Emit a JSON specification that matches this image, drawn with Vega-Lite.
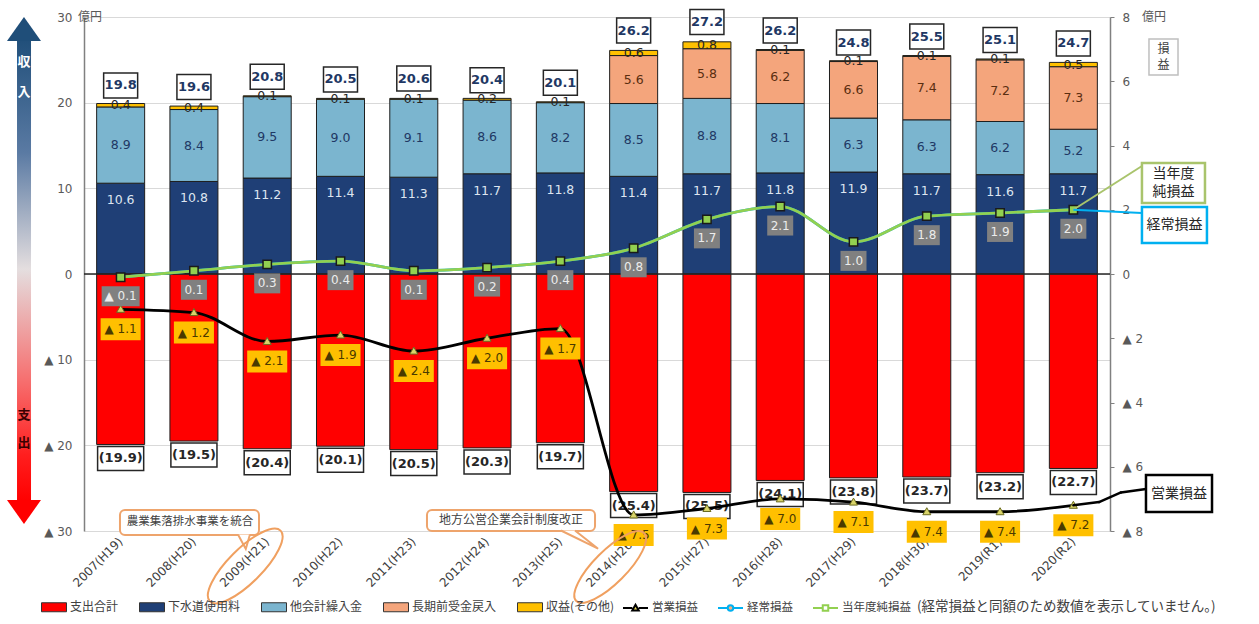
{
  "$schema": "https://vega.github.io/schema/vega-lite/v6.json",
  "width": 1026,
  "height": 514,
  "autosize": {"type": "none"},
  "padding": {"left": 84, "top": 17, "right": 149, "bottom": 93},
  "background": "#ffffff",
  "config": {
    "view": {"stroke": null},
    "font": "DejaVu Sans",
    "locale": {"number": {"decimal": ".", "thousands": ",", "grouping": [3], "currency": ["", ""], "minus": "▲ "}},
    "legend": {"padding": 0}
  },
  "datasets": {
    "flows": [
      {"year": "2007(H19)", "item": "下水道使用料", "value": 10.6},
      {"year": "2007(H19)", "item": "他会計繰入金", "value": 8.9},
      {"year": "2007(H19)", "item": "収益(その他)", "value": 0.4},
      {"year": "2007(H19)", "item": "支出合計", "value": -19.9},
      {"year": "2008(H20)", "item": "下水道使用料", "value": 10.8},
      {"year": "2008(H20)", "item": "他会計繰入金", "value": 8.4},
      {"year": "2008(H20)", "item": "収益(その他)", "value": 0.4},
      {"year": "2008(H20)", "item": "支出合計", "value": -19.5},
      {"year": "2009(H21)", "item": "下水道使用料", "value": 11.2},
      {"year": "2009(H21)", "item": "他会計繰入金", "value": 9.5},
      {"year": "2009(H21)", "item": "収益(その他)", "value": 0.1},
      {"year": "2009(H21)", "item": "支出合計", "value": -20.4},
      {"year": "2010(H22)", "item": "下水道使用料", "value": 11.4},
      {"year": "2010(H22)", "item": "他会計繰入金", "value": 9.0},
      {"year": "2010(H22)", "item": "収益(その他)", "value": 0.1},
      {"year": "2010(H22)", "item": "支出合計", "value": -20.1},
      {"year": "2011(H23)", "item": "下水道使用料", "value": 11.3},
      {"year": "2011(H23)", "item": "他会計繰入金", "value": 9.1},
      {"year": "2011(H23)", "item": "収益(その他)", "value": 0.1},
      {"year": "2011(H23)", "item": "支出合計", "value": -20.5},
      {"year": "2012(H24)", "item": "下水道使用料", "value": 11.7},
      {"year": "2012(H24)", "item": "他会計繰入金", "value": 8.6},
      {"year": "2012(H24)", "item": "収益(その他)", "value": 0.2},
      {"year": "2012(H24)", "item": "支出合計", "value": -20.3},
      {"year": "2013(H25)", "item": "下水道使用料", "value": 11.8},
      {"year": "2013(H25)", "item": "他会計繰入金", "value": 8.2},
      {"year": "2013(H25)", "item": "収益(その他)", "value": 0.1},
      {"year": "2013(H25)", "item": "支出合計", "value": -19.7},
      {"year": "2014(H26)", "item": "下水道使用料", "value": 11.4},
      {"year": "2014(H26)", "item": "他会計繰入金", "value": 8.5},
      {"year": "2014(H26)", "item": "長期前受金戻入", "value": 5.6},
      {"year": "2014(H26)", "item": "収益(その他)", "value": 0.6},
      {"year": "2014(H26)", "item": "支出合計", "value": -25.4},
      {"year": "2015(H27)", "item": "下水道使用料", "value": 11.7},
      {"year": "2015(H27)", "item": "他会計繰入金", "value": 8.8},
      {"year": "2015(H27)", "item": "長期前受金戻入", "value": 5.8},
      {"year": "2015(H27)", "item": "収益(その他)", "value": 0.8},
      {"year": "2015(H27)", "item": "支出合計", "value": -25.5},
      {"year": "2016(H28)", "item": "下水道使用料", "value": 11.8},
      {"year": "2016(H28)", "item": "他会計繰入金", "value": 8.1},
      {"year": "2016(H28)", "item": "長期前受金戻入", "value": 6.2},
      {"year": "2016(H28)", "item": "収益(その他)", "value": 0.1},
      {"year": "2016(H28)", "item": "支出合計", "value": -24.1},
      {"year": "2017(H29)", "item": "下水道使用料", "value": 11.9},
      {"year": "2017(H29)", "item": "他会計繰入金", "value": 6.3},
      {"year": "2017(H29)", "item": "長期前受金戻入", "value": 6.6},
      {"year": "2017(H29)", "item": "収益(その他)", "value": 0.1},
      {"year": "2017(H29)", "item": "支出合計", "value": -23.8},
      {"year": "2018(H30)", "item": "下水道使用料", "value": 11.7},
      {"year": "2018(H30)", "item": "他会計繰入金", "value": 6.3},
      {"year": "2018(H30)", "item": "長期前受金戻入", "value": 7.4},
      {"year": "2018(H30)", "item": "収益(その他)", "value": 0.1},
      {"year": "2018(H30)", "item": "支出合計", "value": -23.7},
      {"year": "2019(R1)", "item": "下水道使用料", "value": 11.6},
      {"year": "2019(R1)", "item": "他会計繰入金", "value": 6.2},
      {"year": "2019(R1)", "item": "長期前受金戻入", "value": 7.2},
      {"year": "2019(R1)", "item": "収益(その他)", "value": 0.1},
      {"year": "2019(R1)", "item": "支出合計", "value": -23.2},
      {"year": "2020(R2)", "item": "下水道使用料", "value": 11.7},
      {"year": "2020(R2)", "item": "他会計繰入金", "value": 5.2},
      {"year": "2020(R2)", "item": "長期前受金戻入", "value": 7.3},
      {"year": "2020(R2)", "item": "収益(その他)", "value": 0.5},
      {"year": "2020(R2)", "item": "支出合計", "value": -22.7}
    ],
    "totals": [
      {"year": "2007(H19)", "revenue": 19.8},
      {"year": "2008(H20)", "revenue": 19.6},
      {"year": "2009(H21)", "revenue": 20.8},
      {"year": "2010(H22)", "revenue": 20.5},
      {"year": "2011(H23)", "revenue": 20.6},
      {"year": "2012(H24)", "revenue": 20.4},
      {"year": "2013(H25)", "revenue": 20.1},
      {"year": "2014(H26)", "revenue": 26.2},
      {"year": "2015(H27)", "revenue": 27.2},
      {"year": "2016(H28)", "revenue": 26.2},
      {"year": "2017(H29)", "revenue": 24.8},
      {"year": "2018(H30)", "revenue": 25.5},
      {"year": "2019(R1)", "revenue": 25.1},
      {"year": "2020(R2)", "revenue": 24.7}
    ],
    "pl": [
      {"year": "2007(H19)", "series": "営業損益", "value": -1.1},
      {"year": "2008(H20)", "series": "営業損益", "value": -1.2},
      {"year": "2009(H21)", "series": "営業損益", "value": -2.1},
      {"year": "2010(H22)", "series": "営業損益", "value": -1.9},
      {"year": "2011(H23)", "series": "営業損益", "value": -2.4},
      {"year": "2012(H24)", "series": "営業損益", "value": -2.0},
      {"year": "2013(H25)", "series": "営業損益", "value": -1.7},
      {"year": "2014(H26)", "series": "営業損益", "value": -7.5},
      {"year": "2015(H27)", "series": "営業損益", "value": -7.3},
      {"year": "2016(H28)", "series": "営業損益", "value": -7.0},
      {"year": "2017(H29)", "series": "営業損益", "value": -7.1},
      {"year": "2018(H30)", "series": "営業損益", "value": -7.4},
      {"year": "2019(R1)", "series": "営業損益", "value": -7.4},
      {"year": "2020(R2)", "series": "営業損益", "value": -7.2},
      {"year": "2007(H19)", "series": "経常損益", "value": -0.1},
      {"year": "2008(H20)", "series": "経常損益", "value": 0.1},
      {"year": "2009(H21)", "series": "経常損益", "value": 0.3},
      {"year": "2010(H22)", "series": "経常損益", "value": 0.4},
      {"year": "2011(H23)", "series": "経常損益", "value": 0.1},
      {"year": "2012(H24)", "series": "経常損益", "value": 0.2},
      {"year": "2013(H25)", "series": "経常損益", "value": 0.4},
      {"year": "2014(H26)", "series": "経常損益", "value": 0.8},
      {"year": "2015(H27)", "series": "経常損益", "value": 1.7},
      {"year": "2016(H28)", "series": "経常損益", "value": 2.1},
      {"year": "2017(H29)", "series": "経常損益", "value": 1.0},
      {"year": "2018(H30)", "series": "経常損益", "value": 1.8},
      {"year": "2019(R1)", "series": "経常損益", "value": 1.9},
      {"year": "2020(R2)", "series": "経常損益", "value": 2.0},
      {"year": "2007(H19)", "series": "当年度純損益", "value": -0.1},
      {"year": "2008(H20)", "series": "当年度純損益", "value": 0.1},
      {"year": "2009(H21)", "series": "当年度純損益", "value": 0.3},
      {"year": "2010(H22)", "series": "当年度純損益", "value": 0.4},
      {"year": "2011(H23)", "series": "当年度純損益", "value": 0.1},
      {"year": "2012(H24)", "series": "当年度純損益", "value": 0.2},
      {"year": "2013(H25)", "series": "当年度純損益", "value": 0.4},
      {"year": "2014(H26)", "series": "当年度純損益", "value": 0.8},
      {"year": "2015(H27)", "series": "当年度純損益", "value": 1.7},
      {"year": "2016(H28)", "series": "当年度純損益", "value": 2.1},
      {"year": "2017(H29)", "series": "当年度純損益", "value": 1.0},
      {"year": "2018(H30)", "series": "当年度純損益", "value": 1.8},
      {"year": "2019(R1)", "series": "当年度純損益", "value": 1.9},
      {"year": "2020(R2)", "series": "当年度純損益", "value": 2.0}
    ]
  },
  "layer": [
    {
      "layer": [
        {
          "data": {"name": "flows"},
          "transform": [{"window": [{"op": "row_number", "as": "stackOrder"}], "groupby": ["year"]}],
          "mark": {"type": "bar", "stroke": "#1e1e1e", "strokeWidth": 1},
          "encoding": {
            "x": {"field": "year", "type": "nominal", "sort": null, "title": null,
              "scale": {"paddingInner": 0.345, "paddingOuter": 0.1725},
              "axis": {"orient": "bottom", "domain": false, "ticks": false, "grid": false, "labelAngle": -45, "labelAlign": "right", "labelBaseline": "middle", "labelPadding": 8, "labelFontSize": 12, "labelColor": "#404040", "labelFont": "DejaVu Sans"}},
            "y": {"field": "value", "type": "quantitative", "stack": "zero", "title": null,
              "scale": {"domain": [-30, 30], "nice": false, "zero": false},
              "axis": {"orient": "left", "values": [-30, -20, -10, 0, 10, 20, 30], "grid": true, "gridColor": "#d9d9d9", "domainColor": "#808080", "domainWidth": 1.5, "ticks": false, "labelPadding": 12, "labelFontSize": 12, "labelColor": "#595959", "labelFont": "DejaVu Sans"}},
            "fill": {"field": "item", "type": "nominal",
              "scale": {"domain": ["支出合計", "下水道使用料", "他会計繰入金", "長期前受金戻入", "収益(その他)"], "range": ["#ff0000", "#1f3f76", "#7bb5cf", "#f4a57c", "#ffc000"]},
              "legend": {"orient": "none", "legendX": -43, "legendY": 577, "direction": "horizontal", "title": null, "symbolType": "M-1,-0.36H1V0.36H-1Z", "symbolSize": 625, "symbolStrokeColor": "#333333", "symbolStrokeWidth": 1, "labelFont": "Noto Sans CJK JP", "labelFontSize": 12, "labelColor": "#404040", "labelOffset": 3, "columnPadding": 18}},
            "order": {"field": "stackOrder", "type": "quantitative"}
          }
        },
        {
          "data": {"name": "flows"},
          "transform": [
            {"window": [{"op": "row_number", "as": "stackOrder"}], "groupby": ["year"]},
            {"filter": "datum.value > 0"}
          ],
          "mark": {"type": "text", "font": "DejaVu Sans", "fontSize": 12.5, "baseline": "middle"},
          "encoding": {
            "x": {"field": "year", "type": "nominal", "sort": null, "title": null, "scale": {"paddingInner": 0.345, "paddingOuter": 0.1725}},
            "y": {"field": "value", "type": "quantitative", "stack": "zero", "bandPosition": 0.5, "title": null},
            "text": {"condition": {"test": "datum.item === '下水道使用料'", "value": ""}, "field": "value", "type": "quantitative", "format": ".1f"},
            "color": {"field": "item", "type": "nominal",
              "scale": {"domain": ["下水道使用料", "他会計繰入金", "長期前受金戻入", "収益(その他)"], "range": ["rgba(0,0,0,0)", "#1f3864", "#5a2e10", "#262626"]},
              "legend": null},
            "order": {"field": "stackOrder", "type": "quantitative"}
          }
        },
        {
          "data": {"name": "flows"},
          "transform": [{"filter": "datum.item === '下水道使用料'"}],
          "mark": {"type": "text", "font": "DejaVu Sans", "fontSize": 12.5, "baseline": "middle", "dy": 17, "fill": "#dde5f0"},
          "encoding": {
            "x": {"field": "year", "type": "nominal", "sort": null, "title": null, "scale": {"paddingInner": 0.345, "paddingOuter": 0.1725}},
            "y": {"field": "value", "type": "quantitative", "title": null},
            "text": {"field": "value", "type": "quantitative", "format": ".1f"}
          }
        },
        {
          "data": {"name": "flows"},
          "transform": [{"filter": "datum.item === '支出合計'"}],
          "mark": {"type": "point", "shape": "M-1.92,-1H1.92V1H-1.92Z", "size": 576, "filled": true, "fill": "#ffffff", "stroke": "#262626", "strokeWidth": 1.5, "opacity": 1, "yOffset": 14},
          "encoding": {
            "x": {"field": "year", "type": "nominal", "sort": null, "title": null, "scale": {"paddingInner": 0.345, "paddingOuter": 0.1725}},
            "y": {"field": "value", "type": "quantitative", "title": null}
          }
        },
        {
          "data": {"name": "flows"},
          "transform": [{"filter": "datum.item === '支出合計'"}],
          "mark": {"type": "text", "font": "DejaVu Sans", "fontSize": 13, "fontWeight": "bold", "baseline": "middle", "fill": "#262626", "yOffset": 14},
          "encoding": {
            "x": {"field": "year", "type": "nominal", "sort": null, "title": null, "scale": {"paddingInner": 0.345, "paddingOuter": 0.1725}},
            "y": {"field": "value", "type": "quantitative", "title": null},
            "text": {"field": "value", "type": "quantitative", "format": "(.1f"}
          }
        },
        {
          "data": {"name": "totals"},
          "mark": {"type": "point", "shape": "M-1.36,-1H1.36V1H-1.36Z", "size": 625, "filled": true, "fill": "#ffffff", "stroke": "#262626", "strokeWidth": 1.5, "opacity": 1, "yOffset": -19},
          "encoding": {
            "x": {"field": "year", "type": "nominal", "sort": null, "title": null, "scale": {"paddingInner": 0.345, "paddingOuter": 0.1725}},
            "y": {"field": "revenue", "type": "quantitative", "title": null}
          }
        },
        {
          "data": {"name": "totals"},
          "mark": {"type": "text", "font": "DejaVu Sans", "fontSize": 13, "fontWeight": "bold", "baseline": "middle", "fill": "#1f3864", "yOffset": -19},
          "encoding": {
            "x": {"field": "year", "type": "nominal", "sort": null, "title": null, "scale": {"paddingInner": 0.345, "paddingOuter": 0.1725}},
            "y": {"field": "revenue", "type": "quantitative", "title": null},
            "text": {"field": "revenue", "type": "quantitative", "format": ".1f"}
          }
        },
        {
          "data": {"values": [{}]},
          "mark": {"type": "rule", "stroke": "#262626", "strokeWidth": 1.5},
          "encoding": {
            "y": {"datum": 0, "type": "quantitative", "title": null}
          }
        }
      ]
    },
    {
      "layer": [
        {
          "data": {"name": "pl"},
          "mark": {"type": "line", "interpolate": "monotone", "strokeWidth": 2.8},
          "encoding": {
            "x": {"field": "year", "type": "nominal", "sort": null, "title": null, "scale": {"paddingInner": 0.345, "paddingOuter": 0.1725}, "axis": null},
            "y": {"field": "value", "type": "quantitative", "title": null,
              "scale": {"domain": [-8, 8], "nice": false, "zero": false},
              "axis": {"orient": "right", "values": [-8, -6, -4, -2, 0, 2, 4, 6, 8], "grid": false, "domainColor": "#808080", "domainWidth": 1.5, "tickColor": "#808080", "tickSize": 4, "labelPadding": 8, "labelFontSize": 12, "labelColor": "#595959", "labelFont": "DejaVu Sans"}},
            "stroke": {"field": "series", "type": "nominal",
              "scale": {"domain": ["営業損益", "経常損益", "当年度純損益"], "range": ["#000000", "#00b0f0", "#92d050"]},
              "legend": {"orient": "none", "legendX": 538, "legendY": 577, "direction": "horizontal", "title": null, "symbolSize": 625, "symbolStrokeWidth": 2, "labelFont": "Noto Sans CJK JP", "labelFontSize": 11.5, "labelColor": "#404040", "labelOffset": 3, "columnPadding": 16,
                "encode": {"symbols": {"update": {
                  "shape": {"signal": "datum.value === '営業損益' ? 'M-1,0H-0.26M0.26,0H1M0,-0.26L0.26,0.2H-0.26Z' : datum.value === '経常損益' ? 'M-1,0H-0.22M0.22,0H1M-0.22,0C-0.22,-0.1215 -0.1215,-0.22 0,-0.22C0.1215,-0.22 0.22,-0.1215 0.22,0C0.22,0.1215 0.1215,0.22 0,0.22C-0.1215,0.22 -0.22,0.1215 -0.22,0Z' : 'M-1,0H-0.22M0.22,0H1M-0.22,-0.22H0.22V0.22H-0.22Z'"},
                  "fill": {"signal": "datum.value === '営業損益' ? '#e6d85a' : datum.value === '経常損益' ? '#f4b183' : '#ffffff'"},
                  "opacity": {"value": 1}
                }}}}}
          }
        },
        {
          "data": {"name": "pl"},
          "transform": [{"filter": "datum.series === '営業損益'"}],
          "mark": {"type": "point", "shape": "M0,-1L1,0.75H-1Z", "size": 64, "filled": true, "fill": "#d9d46a", "stroke": "#6b6b1f", "strokeWidth": 1, "opacity": 1},
          "encoding": {
            "x": {"field": "year", "type": "nominal", "sort": null, "title": null, "scale": {"paddingInner": 0.345, "paddingOuter": 0.1725}, "axis": null},
            "y": {"field": "value", "type": "quantitative", "title": null}
          }
        },
        {
          "data": {"name": "pl"},
          "transform": [{"filter": "datum.series === '当年度純損益'"}],
          "mark": {"type": "point", "shape": "square", "size": 70, "filled": true, "fill": "#92d050", "stroke": "#1a1a1a", "strokeWidth": 1.5, "opacity": 1},
          "encoding": {
            "x": {"field": "year", "type": "nominal", "sort": null, "title": null, "scale": {"paddingInner": 0.345, "paddingOuter": 0.1725}, "axis": null},
            "y": {"field": "value", "type": "quantitative", "title": null}
          }
        },
        {
          "data": {"name": "pl"},
          "transform": [{"filter": "datum.series === '経常損益'"}],
          "mark": {"type": "point", "size": 400, "filled": true, "fill": "#808080", "strokeWidth": 0, "opacity": 1, "yOffset": 19},
          "encoding": {
            "x": {"field": "year", "type": "nominal", "sort": null, "title": null, "scale": {"paddingInner": 0.345, "paddingOuter": 0.1725}, "axis": null},
            "y": {"field": "value", "type": "quantitative", "title": null},
            "shape": {"condition": {"test": "datum.value < 0", "value": "M-1.9,-1H1.9V1H-1.9Z"}, "value": "M-1.3,-1H1.3V1H-1.3Z"}
          }
        },
        {
          "data": {"name": "pl"},
          "transform": [{"filter": "datum.series === '経常損益'"}],
          "mark": {"type": "text", "font": "DejaVu Sans", "fontSize": 12, "baseline": "middle", "fill": "#ececec", "yOffset": 19},
          "encoding": {
            "x": {"field": "year", "type": "nominal", "sort": null, "title": null, "scale": {"paddingInner": 0.345, "paddingOuter": 0.1725}, "axis": null},
            "y": {"field": "value", "type": "quantitative", "title": null},
            "text": {"field": "value", "type": "quantitative", "format": ".1f"}
          }
        },
        {
          "data": {"name": "pl"},
          "transform": [{"filter": "datum.series === '営業損益'"}],
          "mark": {"type": "point", "shape": "M-1.82,-1H1.82V1H-1.82Z", "size": 484, "filled": true, "fill": "#ffc000", "strokeWidth": 0, "opacity": 1, "yOffset": 20},
          "encoding": {
            "x": {"field": "year", "type": "nominal", "sort": null, "title": null, "scale": {"paddingInner": 0.345, "paddingOuter": 0.1725}, "axis": null},
            "y": {"field": "value", "type": "quantitative", "title": null}
          }
        },
        {
          "data": {"name": "pl"},
          "transform": [{"filter": "datum.series === '営業損益'"}],
          "mark": {"type": "text", "font": "DejaVu Sans", "fontSize": 12, "baseline": "middle", "fill": "#4a3a00", "yOffset": 20},
          "encoding": {
            "x": {"field": "year", "type": "nominal", "sort": null, "title": null, "scale": {"paddingInner": 0.345, "paddingOuter": 0.1725}, "axis": null},
            "y": {"field": "value", "type": "quantitative", "title": null},
            "text": {"field": "value", "type": "quantitative", "format": ".1f"}
          }
        }
      ]
    },
    {
      "data": {"values": [{}]},
      "layer": [
        {
          "mark": {"type": "rect", "fill": {"gradient": "linear", "x1": 0, "y1": 0, "x2": 0, "y2": 1, "stops": [{"offset": 0, "color": "#1f4e79"}, {"offset": 0.25, "color": "#5a7aa3"}, {"offset": 0.5, "color": "#e4dedf"}, {"offset": 0.75, "color": "#f76a6a"}, {"offset": 0.9, "color": "#ff1e1e"}, {"offset": 1, "color": "#ff0000"}]}},
          "encoding": {
            "x": {"datum": -0.914, "type": "quantitative", "scale": {"domain": [0, 14], "nice": false, "zero": false}, "axis": null},
            "x2": {"datum": -0.723},
            "y": {"datum": 7.409, "type": "quantitative", "scale": {"domain": [-8, 8], "nice": false, "zero": false}, "axis": null},
            "y2": {"datum": -7.097}
          }
        },
        {
          "mark": {"type": "point", "shape": "M0,-0.7L1,0.7H-1Z", "size": 1156, "filled": true, "fill": "#1f4e79", "strokeWidth": 0, "opacity": 1},
          "encoding": {
            "x": {"datum": -0.819, "type": "quantitative", "axis": null},
            "y": {"datum": 7.626, "type": "quantitative", "axis": null}
          }
        },
        {
          "mark": {"type": "point", "shape": "M0,0.7L1,-0.7H-1Z", "size": 1156, "filled": true, "fill": "#ff0000", "strokeWidth": 0, "opacity": 1},
          "encoding": {
            "x": {"datum": -0.819, "type": "quantitative", "axis": null},
            "y": {"datum": -7.409, "type": "quantitative", "axis": null}
          }
        },
        {
          "mark": {"type": "text", "font": "Noto Sans CJK JP", "fontSize": 13, "fontWeight": "bold", "fill": "#ffffff", "lineHeight": 30, "baseline": "middle"},
          "encoding": {
            "x": {"datum": -0.819, "type": "quantitative", "axis": null},
            "y": {"datum": 6.599, "type": "quantitative", "axis": null},
            "text": {"value": ["収", "入"]}
          }
        },
        {
          "mark": {"type": "text", "font": "Noto Sans CJK JP", "fontSize": 13, "fontWeight": "bold", "fill": "#3a0000", "lineHeight": 28, "baseline": "middle"},
          "encoding": {
            "x": {"datum": -0.819, "type": "quantitative", "axis": null},
            "y": {"datum": -4.389, "type": "quantitative", "axis": null},
            "text": {"value": ["支", "出"]}
          }
        },
        {
          "mark": {"type": "text", "font": "Noto Sans CJK JP", "fontSize": 12, "fill": "#595959", "align": "left", "baseline": "middle"},
          "encoding": {
            "x": {"datum": -0.082, "type": "quantitative", "axis": null},
            "y": {"datum": 8.0, "type": "quantitative", "axis": null},
            "text": {"value": "億円"}
          }
        },
        {
          "mark": {"type": "text", "font": "Noto Sans CJK JP", "fontSize": 12, "fill": "#595959", "align": "left", "baseline": "middle"},
          "encoding": {
            "x": {"datum": 14.436, "type": "quantitative", "axis": null},
            "y": {"datum": 8.0, "type": "quantitative", "axis": null},
            "text": {"value": "億円"}
          }
        },
        {
          "mark": {"type": "rect", "fill": "#ffffff", "stroke": "#bfbfbf", "strokeWidth": 1.5},
          "encoding": {
            "x": {"datum": 14.532, "type": "quantitative", "axis": null},
            "x2": {"datum": 14.928},
            "y": {"datum": 7.315, "type": "quantitative", "axis": null},
            "y2": {"datum": 6.195}
          }
        },
        {
          "mark": {"type": "text", "font": "Noto Sans CJK JP", "fontSize": 12, "fill": "#404040", "lineHeight": 16, "baseline": "middle"},
          "encoding": {
            "x": {"datum": 14.73, "type": "quantitative", "axis": null},
            "y": {"datum": 7.004, "type": "quantitative", "axis": null},
            "text": {"value": ["損", "益"]}
          }
        },
        {
          "mark": {"type": "rule", "stroke": "#a9c46c", "strokeWidth": 2},
          "encoding": {
            "x": {"datum": 13.5, "type": "quantitative", "axis": null},
            "x2": {"datum": 14.436},
            "y": {"datum": 2.0, "type": "quantitative", "axis": null},
            "y2": {"datum": 3.362}
          }
        },
        {
          "mark": {"type": "rect", "fill": "#ffffff", "stroke": "#a9c46c", "strokeWidth": 2.5},
          "encoding": {
            "x": {"datum": 14.436, "type": "quantitative", "axis": null},
            "x2": {"datum": 15.296},
            "y": {"datum": 3.455, "type": "quantitative", "axis": null},
            "y2": {"datum": 2.21}
          }
        },
        {
          "mark": {"type": "text", "font": "Noto Sans CJK JP", "fontSize": 14, "fill": "#262626", "lineHeight": 18, "baseline": "middle"},
          "encoding": {
            "x": {"datum": 14.866, "type": "quantitative", "axis": null},
            "y": {"datum": 3.113, "type": "quantitative", "axis": null},
            "text": {"value": ["当年度", "純損益"]}
          }
        },
        {
          "mark": {"type": "rule", "stroke": "#00b0f0", "strokeWidth": 2},
          "encoding": {
            "x": {"datum": 13.5, "type": "quantitative", "axis": null},
            "x2": {"datum": 14.436},
            "y": {"datum": 2.0, "type": "quantitative", "axis": null},
            "y2": {"datum": 1.899}
          }
        },
        {
          "mark": {"type": "rect", "fill": "#ffffff", "stroke": "#00b0f0", "strokeWidth": 2.5},
          "encoding": {
            "x": {"datum": 14.436, "type": "quantitative", "axis": null},
            "x2": {"datum": 15.323},
            "y": {"datum": 2.086, "type": "quantitative", "axis": null},
            "y2": {"datum": 0.965}
          }
        },
        {
          "mark": {"type": "text", "font": "Noto Sans CJK JP", "fontSize": 14, "fill": "#262626", "baseline": "middle"},
          "encoding": {
            "x": {"datum": 14.88, "type": "quantitative", "axis": null},
            "y": {"datum": 1.525, "type": "quantitative", "axis": null},
            "text": {"value": "経常損益"}
          }
        },
        {
          "mark": {"type": "rule", "stroke": "#000000", "strokeWidth": 2.5, "strokeCap": "round"},
          "encoding": {
            "x": {"datum": 13.5, "type": "quantitative", "axis": null},
            "x2": {"datum": 13.85},
            "y": {"datum": -7.2, "type": "quantitative", "axis": null},
            "y2": {"datum": -7.1}
          }
        },
        {
          "mark": {"type": "rule", "stroke": "#000000", "strokeWidth": 2.5, "strokeCap": "round"},
          "encoding": {
            "x": {"datum": 13.85, "type": "quantitative", "axis": null},
            "x2": {"datum": 14.15},
            "y": {"datum": -7.1, "type": "quantitative", "axis": null},
            "y2": {"datum": -6.8}
          }
        },
        {
          "mark": {"type": "rule", "stroke": "#000000", "strokeWidth": 2.5, "strokeCap": "round"},
          "encoding": {
            "x": {"datum": 14.15, "type": "quantitative", "axis": null},
            "x2": {"datum": 14.491},
            "y": {"datum": -6.8, "type": "quantitative", "axis": null},
            "y2": {"datum": -6.693}
          }
        },
        {
          "mark": {"type": "rect", "fill": "#ffffff", "stroke": "#000000", "strokeWidth": 2.5},
          "encoding": {
            "x": {"datum": 14.491, "type": "quantitative", "axis": null},
            "x2": {"datum": 15.392},
            "y": {"datum": -6.257, "type": "quantitative", "axis": null},
            "y2": {"datum": -7.409}
          }
        },
        {
          "mark": {"type": "text", "font": "Noto Sans CJK JP", "fontSize": 14, "fill": "#262626", "baseline": "middle"},
          "encoding": {
            "x": {"datum": 14.941, "type": "quantitative", "axis": null},
            "y": {"datum": -6.833, "type": "quantitative", "axis": null},
            "text": {"value": "営業損益"}
          }
        },
        {
          "mark": {"type": "rect", "fill": "#ffffff", "stroke": "#eea46c", "strokeWidth": 2, "cornerRadius": 5},
          "encoding": {
            "x": {"datum": 0.491, "type": "quantitative", "axis": null},
            "x2": {"datum": 2.388},
            "y": {"datum": -7.346, "type": "quantitative", "axis": null},
            "y2": {"datum": -8.125}
          }
        },
        {
          "mark": {"type": "text", "font": "Noto Sans CJK JP", "fontSize": 11.5, "fill": "#404040", "baseline": "middle"},
          "encoding": {
            "x": {"datum": 1.446, "type": "quantitative", "axis": null},
            "y": {"datum": -7.735, "type": "quantitative", "axis": null},
            "text": {"value": "農業集落排水事業を統合"}
          }
        },
        {
          "mark": {"type": "point", "shape": "M-1,0L0.3,2.4L1,0", "size": 144, "filled": true, "fill": "#ffffff", "stroke": "#eea46c", "strokeWidth": 2, "opacity": 1},
          "encoding": {
            "x": {"datum": 2.183, "type": "quantitative", "axis": null},
            "y": {"datum": -8.109, "type": "quantitative", "axis": null}
          }
        },
        {
          "mark": {"type": "point", "shape": "M-1,0C-1,-0.1878 -0.5523,-0.34 0,-0.34C0.5523,-0.34 1,-0.1878 1,0C1,0.1878 0.5523,0.34 0,0.34C-0.5523,0.34 -1,0.1878 -1,0Z", "size": 10000, "angle": -45, "filled": false, "stroke": "#f0a060", "strokeWidth": 2, "opacity": 1},
          "encoding": {
            "x": {"datum": 2.2, "type": "quantitative", "axis": null},
            "y": {"datum": -9.09, "type": "quantitative", "axis": null}
          }
        },
        {
          "mark": {"type": "rect", "fill": "#ffffff", "stroke": "#eea46c", "strokeWidth": 2, "cornerRadius": 5},
          "encoding": {
            "x": {"datum": 4.68, "type": "quantitative", "axis": null},
            "x2": {"datum": 6.973},
            "y": {"datum": -7.346, "type": "quantitative", "axis": null},
            "y2": {"datum": -8.0}
          }
        },
        {
          "mark": {"type": "text", "font": "Noto Sans CJK JP", "fontSize": 12, "fill": "#404040", "baseline": "middle"},
          "encoding": {
            "x": {"datum": 5.827, "type": "quantitative", "axis": null},
            "y": {"datum": -7.673, "type": "quantitative", "axis": null},
            "text": {"value": "地方公営企業会計制度改正"}
          }
        },
        {
          "mark": {"type": "point", "shape": "M-1,0L4.3,2.6L1,0", "size": 196, "filled": true, "fill": "#ffffff", "stroke": "#eea46c", "strokeWidth": 2, "opacity": 1},
          "encoding": {
            "x": {"datum": 6.604, "type": "quantitative", "axis": null},
            "y": {"datum": -7.984, "type": "quantitative", "axis": null}
          }
        },
        {
          "mark": {"type": "point", "shape": "M-1,0C-1,-0.1878 -0.5523,-0.34 0,-0.34C0.5523,-0.34 1,-0.1878 1,0C1,0.1878 0.5523,0.34 0,0.34C-0.5523,0.34 -1,0.1878 -1,0Z", "size": 9216, "angle": -45, "filled": false, "stroke": "#f0a060", "strokeWidth": 2, "opacity": 1},
          "encoding": {
            "x": {"datum": 7.18, "type": "quantitative", "axis": null},
            "y": {"datum": -9.12, "type": "quantitative", "axis": null}
          }
        },
        {
          "mark": {"type": "text", "font": "Noto Sans CJK JP", "fontSize": 13.5, "fill": "#404040", "align": "left", "baseline": "middle"},
          "encoding": {
            "x": {"datum": 11.366, "type": "quantitative", "axis": null},
            "y": {"datum": -10.366, "type": "quantitative", "axis": null},
            "text": {"value": "(経常損益と同額のため数値を表示していません。)"}
          }
        }
      ]
    }
  ],
  "resolve": {"scale": {"x": "independent", "y": "independent", "fill": "independent"}}
}
